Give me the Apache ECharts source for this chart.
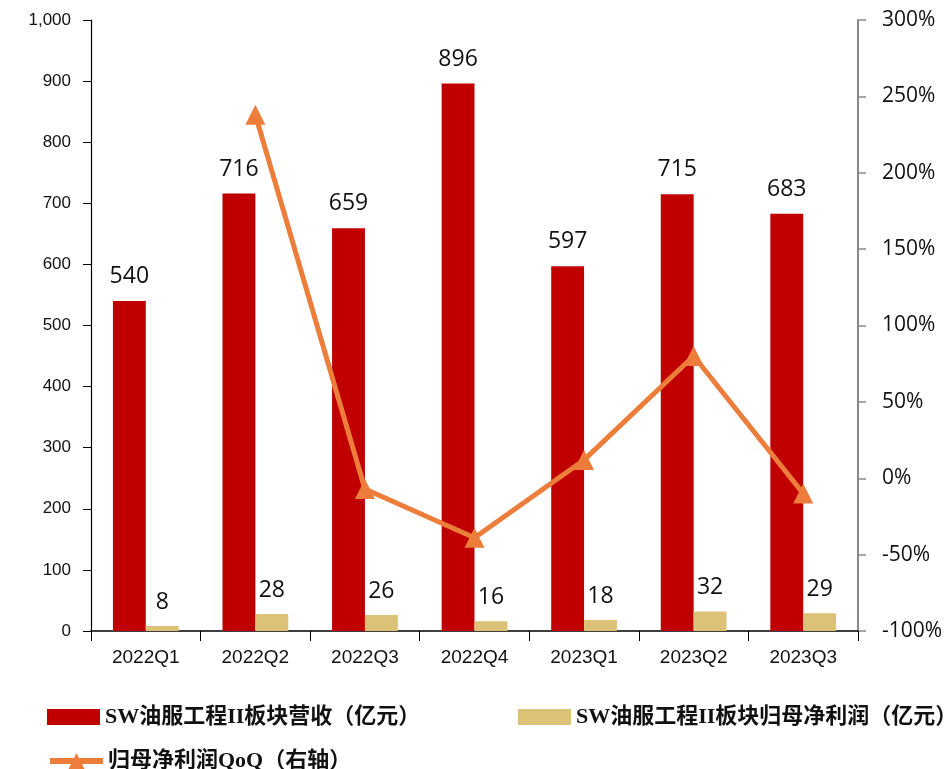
<!DOCTYPE html>
<html>
<head>
<meta charset="utf-8">
<script src="https://cdn.jsdelivr.net/npm/echarts@6/dist/echarts.min.js"></script>
<style>
  html, body { margin: 0; padding: 0; background: #fff; }
  #chart { width: 950px; height: 769px; }
</style>
</head>
<body>
<div id="chart"></div>
<script>
// Quarterly figures for the SW oilfield services sector
const quarters = ['2022Q1', '2022Q2', '2022Q3', '2022Q4', '2023Q1', '2023Q2', '2023Q3'];
const revenue = [540, 716, 659, 896, 597, 715, 683];          // 亿元
const netProfit = [8, 28, 26, 16, 18, 32, 29];                // 亿元
const profitQoQ = [null, 238, -7, -39, 12, 80, -10];          // %

const leftTicks = { min: 0, max: 1000, interval: 100 };
const rightTicks = { min: -100, max: 300, interval: 50 };

const nameRev = 'SW油服工程II板块营收（亿元）';
const nameProfit = 'SW油服工程II板块归母净利润（亿元）';
const nameQoQ = '归母净利润QoQ（右轴）';

const RED = '#C00000';
const GOLD = '#DCC276';
const ORANGE = '#ED7D3A';

const legendText = {
  fontFamily: '"Liberation Serif", "Noto Sans CJK SC", serif',
  fontWeight: 'bold',
  fontSize: 22,
  color: '#111'
};

const chart = echarts.init(document.getElementById('chart'));
chart.setOption({
  animation: false,
  backgroundColor: '#fff',
  grid: { left: 91, right: 92, top: 20, bottom: 138 },
  legend: [
    { data: [nameRev], left: 42, top: 701, itemWidth: 53, itemHeight: 16, textStyle: legendText, icon: 'rect' },
    { data: [nameProfit], left: 513, top: 701, itemWidth: 53, itemHeight: 16, textStyle: legendText, icon: 'rect' },
    { data: [nameQoQ], left: 42, top: 745, itemWidth: 53, itemHeight: 20, textStyle: legendText,
      lineStyle: { width: 6 } }
  ],
  xAxis: {
    type: 'category',
    data: quarters,
    axisLine: { lineStyle: { color: '#000', width: 1.5 } },
    axisTick: { show: true, length: 10, lineStyle: { color: '#000' } },
    axisLabel: { color: '#111', fontSize: 19, fontFamily: '"Liberation Sans Narrow", "Liberation Sans", Arial', margin: 17 }
  },
  yAxis: [
    {
      type: 'value',
      min: leftTicks.min, max: leftTicks.max, interval: leftTicks.interval,
      splitLine: { show: false },
      axisLine: { show: true, lineStyle: { color: '#000', width: 1.2 } },
      axisTick: { show: true, length: 8, lineStyle: { color: '#000' } },
      axisLabel: {
        color: '#111', fontSize: 17, fontFamily: '"Liberation Sans", Arial', margin: 20,
        formatter: v => v.toLocaleString('en-US')
      }
    },
    {
      type: 'value',
      min: rightTicks.min, max: rightTicks.max, interval: rightTicks.interval,
      splitLine: { show: false },
      axisLine: { show: true, lineStyle: { color: '#888', width: 2 } },
      axisTick: { show: true, length: 8, lineStyle: { color: '#888', width: 1.5 } },
      axisLabel: {
        color: '#111', fontSize: 21, fontFamily: '"Open Sans", sans-serif', margin: 24,
        formatter: v => v + '%'
      }
    }
  ],
  series: [
    {
      name: nameRev,
      type: 'bar',
      data: revenue,
      barWidth: '30%',
      barGap: '0%',
      itemStyle: { color: RED },
      label: {
        show: true, position: 'top', distance: 13,
        color: '#111', fontSize: 23, fontFamily: '"Open Sans", sans-serif'
      }
    },
    {
      name: nameProfit,
      type: 'bar',
      data: netProfit,
      barWidth: '30%',
      barGap: '0%',
      itemStyle: { color: GOLD },
      label: {
        show: true, position: 'top', distance: 12,
        color: '#111', fontSize: 23, fontFamily: '"Open Sans", sans-serif'
      }
    },
    {
      name: nameQoQ,
      type: 'line',
      yAxisIndex: 1,
      data: profitQoQ,
      symbol: 'triangle',
      symbolSize: 20,
      lineStyle: { color: ORANGE, width: 5 },
      itemStyle: { color: ORANGE },
      z: 5
    }
  ]
});
</script>
</body>
</html>
